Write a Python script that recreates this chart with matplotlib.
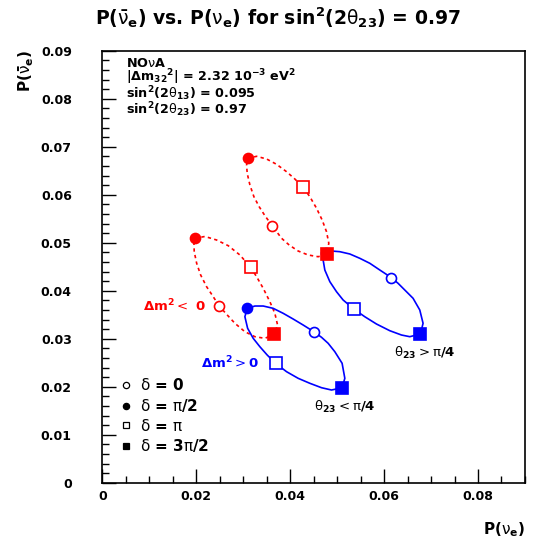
import matplotlib
matplotlib.use('Agg')
import matplotlib.pyplot as plt
from matplotlib.lines import Line2D
from matplotlib.ticker import MultipleLocator, FuncFormatter

plt.rcParams['mathtext.fontset'] = 'custom'
plt.rcParams['mathtext.rm'] = 'DejaVu Sans:bold'
plt.rcParams['mathtext.it'] = 'DejaVu Sans:bold'
plt.rcParams['mathtext.bf'] = 'DejaVu Sans:bold'
plt.rcParams['mathtext.sf'] = 'DejaVu Sans'

# curves: delta goes 0 -> pi/2 -> pi -> 3pi/2 -> 2pi
# inverted hierarchy (dm2 < 0), theta23 > pi/4
ih_hi_x = [0.03617, 0.03462, 0.03340, 0.03228, 0.03143, 0.03085, 0.03072, 0.03106, 0.03285, 0.03498,
           0.03711, 0.03923, 0.04100, 0.04277, 0.04419, 0.04562, 0.04681, 0.04774, 0.04823, 0.04774,
           0.04596, 0.04383, 0.04170, 0.03979, 0.03817, 0.03617]
ih_hi_y = [0.05354, 0.05563, 0.05750, 0.05958, 0.06202, 0.06446, 0.06619, 0.06758, 0.06800, 0.06744,
           0.06633, 0.06479, 0.06327, 0.06154, 0.05958, 0.05717, 0.05473, 0.05229, 0.04988, 0.04758,
           0.04708, 0.04744, 0.04827, 0.04952, 0.05092, 0.05354]
# inverted hierarchy, theta23 < pi/4
ih_lo_x = [0.02483, 0.02362, 0.02221, 0.02094, 0.02009, 0.01957, 0.01951, 0.01972, 0.02185, 0.02434,
           0.02681, 0.02930, 0.03157, 0.03285, 0.03426, 0.03568, 0.03674, 0.03732, 0.03660, 0.03462,
           0.03249, 0.03036, 0.02823, 0.02647, 0.02483]
ih_lo_y = [0.03688, 0.03875, 0.04083, 0.04327, 0.04571, 0.04813, 0.04988, 0.05092, 0.05130, 0.05056,
           0.04938, 0.04744, 0.04488, 0.04292, 0.04050, 0.03771, 0.03529, 0.03285, 0.03092, 0.03008,
           0.03042, 0.03146, 0.03321, 0.03508, 0.03688]
# normal hierarchy (dm2 > 0), theta23 > pi/4
nh_hi_x = [0.06157, 0.05909, 0.05696, 0.05483, 0.05270, 0.05057, 0.04881, 0.04753, 0.04702, 0.04738,
           0.04845, 0.04987, 0.05128, 0.05362, 0.05589, 0.05838, 0.06121, 0.06370, 0.06547, 0.06774,
           0.06830, 0.06760, 0.06617, 0.06440, 0.06298, 0.06157]
nh_hi_y = [0.04271, 0.04431, 0.04571, 0.04675, 0.04765, 0.04813, 0.04827, 0.04792, 0.04640, 0.04431,
           0.04188, 0.03979, 0.03806, 0.03613, 0.03458, 0.03306, 0.03167, 0.03077, 0.03042, 0.03098,
           0.03321, 0.03598, 0.03842, 0.04015, 0.04154, 0.04271]
# normal hierarchy, theta23 < pi/4
nh_lo_x = [0.04504, 0.04277, 0.04064, 0.03851, 0.03638, 0.03426, 0.03249, 0.03085, 0.03036, 0.03094,
           0.03213, 0.03355, 0.03511, 0.03689, 0.03923, 0.04170, 0.04419, 0.04668, 0.04881, 0.05106,
           0.05164, 0.05106, 0.04951, 0.04809, 0.04668, 0.04504]
nh_lo_y = [0.03146, 0.03285, 0.03410, 0.03529, 0.03633, 0.03681, 0.03681, 0.03633, 0.03458, 0.03217,
           0.03008, 0.02833, 0.02660, 0.02488, 0.02313, 0.02175, 0.02071, 0.01979, 0.01931, 0.01979,
           0.02175, 0.02488, 0.02729, 0.02904, 0.03029, 0.03146]

# marker points at delta = 0, pi/2, pi, 3pi/2
ih_hi_mk_x = [0.03617, 0.03106, 0.04277, 0.04774]
ih_hi_mk_y = [0.05354, 0.06758, 0.06154, 0.04758]
ih_lo_mk_x = [0.02483, 0.01972, 0.03157, 0.03660]
ih_lo_mk_y = [0.03688, 0.05092, 0.04488, 0.03092]
nh_hi_mk_x = [0.06157, 0.04753, 0.05362, 0.06774]
nh_hi_mk_y = [0.04271, 0.04792, 0.03613, 0.03098]
nh_lo_mk_x = [0.04504, 0.03085, 0.03689, 0.05106]
nh_lo_mk_y = [0.03146, 0.03633, 0.02488, 0.01979]

delta_labels = [r'$\mathsf{\delta}$ = 0', r'$\mathsf{\delta}$ = $\mathsf{\pi}$/2',
                r'$\mathsf{\delta}$ = $\mathsf{\pi}$', r'$\mathsf{\delta}$ = 3$\mathsf{\pi}$/2']
marker_kinds = [('o', False), ('o', True), ('s', False), ('s', True)]

info_lines = [r'NO$\mathsf{\nu}$A',
              r'|$\Delta$m$_{32}$$^2$| = 2.32 10$^{-3}$ eV$^2$',
              r'sin$^2$(2$\mathsf{\theta}_{13}$) = 0.095',
              r'sin$^2$(2$\mathsf{\theta}_{23}$) = 0.97']

fig = plt.figure(figsize=(5.34, 5.40), dpi=100)
ax = fig.add_axes([0.1916, 0.1061, 0.7915, 0.8])

curves = [
  (ih_hi_x, ih_hi_y, ih_hi_mk_x, ih_hi_mk_y, 'red', '--'),
  (ih_lo_x, ih_lo_y, ih_lo_mk_x, ih_lo_mk_y, 'red', '--'),
  (nh_hi_x, nh_hi_y, nh_hi_mk_x, nh_hi_mk_y, 'blue', '-'),
  (nh_lo_x, nh_lo_y, nh_lo_mk_x, nh_lo_mk_y, 'blue', '-'),
]

for cx, cy, mx, my, col, ls in curves:
  if ls == '--':
    ax.plot(cx, cy, color=col, lw=1.2, dashes=(2, 2), zorder=2)
  else:
    ax.plot(cx, cy, color=col, lw=1.2, zorder=2)

# blue markers first, red on top
for cx, cy, mx, my, col, ls in curves[2:] + curves[:2]:
  for i, (m, filled) in enumerate(marker_kinds):
    ms = 7.2 if m == 'o' else 8
    ax.plot(mx[i], my[i], marker=m, ms=ms, mec=col, mew=1.2,
            mfc=col if filled else 'white', ls='none', zorder=3)

ax.set_xlim(0, 0.09)
ax.set_ylim(0, 0.09)
ax.xaxis.set_major_locator(MultipleLocator(0.02))
ax.xaxis.set_minor_locator(MultipleLocator(0.005))
ax.yaxis.set_major_locator(MultipleLocator(0.01))
ax.yaxis.set_minor_locator(MultipleLocator(0.002))
fmt = FuncFormatter(lambda v, p: '0' if abs(v) < 1e-9 else f'{v:.2f}')
ax.xaxis.set_major_formatter(fmt)
ax.yaxis.set_major_formatter(fmt)
ax.tick_params(which='both', direction='in', top=False, right=False, width=1)
ax.tick_params(which='major', length=10)
ax.tick_params(which='minor', length=5)
ax.tick_params(axis='y', which='major', pad=22)
ax.tick_params(axis='x', which='major', pad=5.5)
for lab in ax.get_xticklabels() + ax.get_yticklabels():
  lab.set_fontsize(9)
  lab.set_fontweight('bold')
for sp in ax.spines.values():
  sp.set_linewidth(1.2)

# info block, one text so the lines keep their spacing
ax.text(0.00504, 0.08869, '\n'.join(info_lines), fontsize=9.2, fontweight='bold',
        va='top', ha='left', linespacing=0.8)

ax.text(0.00866, 0.03577, r'$\Delta$m$^2$$\mathsf{<}$ 0', color='red', fontsize=9.5,
        fontweight='bold', va='baseline')
ax.text(0.02094, 0.02383, r'$\Delta$m$^2$$\mathsf{>}$0', color='blue', fontsize=9.5,
        fontweight='bold', va='baseline')
ax.text(0.04504, 0.01494, r'$\mathsf{\theta}_{23}$$\mathsf{<}$$\mathsf{\pi}$/4', fontsize=9.5,
        fontweight='bold', va='baseline')
ax.text(0.06206, 0.02612, r'$\mathsf{\theta}_{23}$$\mathsf{>}$$\mathsf{\pi}$/4', fontsize=9.5,
        fontweight='bold', va='baseline')

# delta legend
handles = [Line2D([], [], marker=m, ls='none', color='black', mfc='black' if f else 'white',
                  ms=4.5, mew=0.9) for m, f in marker_kinds]
leg = ax.legend(handles, delta_labels, loc='upper left', bbox_to_anchor=(0.0400, 0.2440),
                frameon=False, borderpad=0, borderaxespad=0, handlelength=0.9,
                handletextpad=0.45, labelspacing=0.24, prop={'size': 11, 'weight': 'bold'})

fig.text(0.5206, 0.9537, r'P($\bar{\mathsf{\nu}}_e$) vs. P($\mathsf{\nu}_e$) for sin$^2$(2$\mathsf{\theta}_{23}$) = 0.97',
         fontsize=13.5, fontweight='bold', ha='center', va='baseline')
fig.text(525 / 534, 6 / 540, r'P($\mathsf{\nu}_e$)', fontsize=11, fontweight='bold',
         ha='right', va='baseline')
fig.text(26 / 534, 0.9074, r'P($\bar{\mathsf{\nu}}_e$)', fontsize=11, fontweight='bold',
         ha='center', va='top', rotation=90)

fig.savefig('out.png', dpi=100)
